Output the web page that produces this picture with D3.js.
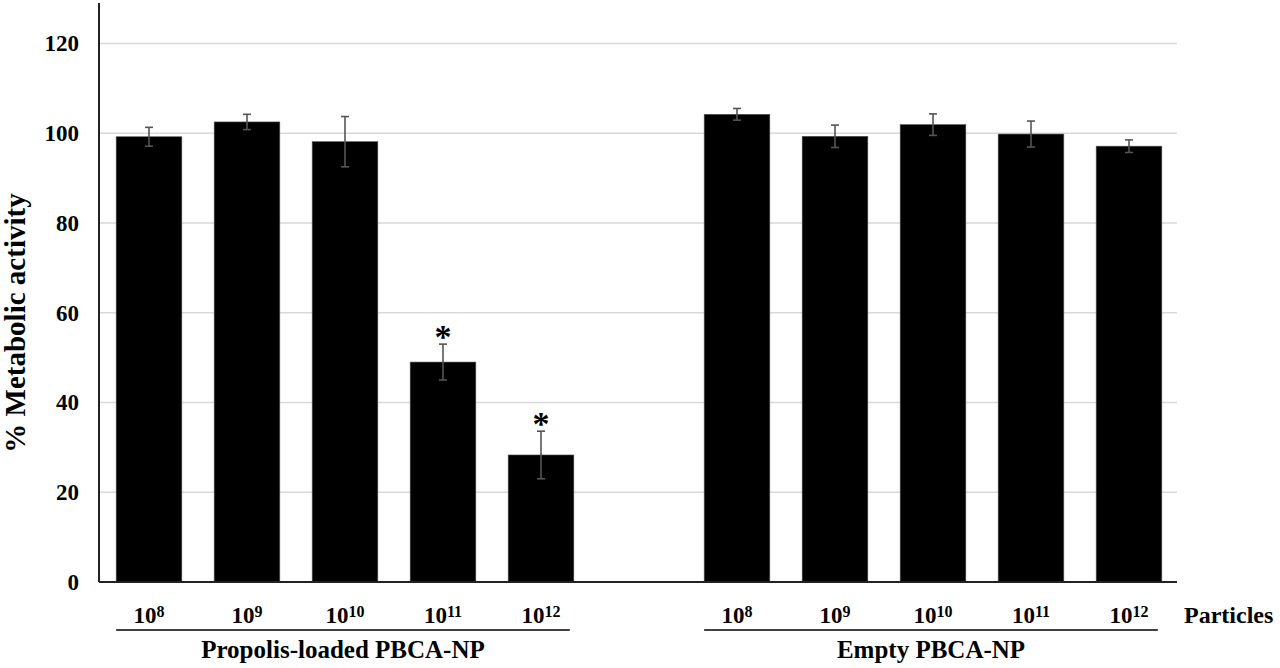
<!DOCTYPE html>
<html>
<head>
<meta charset="utf-8">
<script src="https://cdn.jsdelivr.net/npm/d3@7"></script>
<style>
  body { margin: 0; background: #fff; }
  text { font-family: "Liberation Serif", "Times New Roman", serif; font-weight: bold; fill: #000; }
</style>
</head>
<body>
<script>
// concentrations (powers of ten) and groups
var exponents = ["8", "9", "10", "11", "12"];
var groups = ["Propolis-loaded PBCA-NP", "Empty PBCA-NP"];

// mean % metabolic activity
var propolisValues = [99.2, 102.5, 98.1, 49.0, 28.3];
var propolisErrors = [2.1, 1.7, 5.6, 4.0, 5.3];
var emptyValues = [104.2, 99.3, 101.9, 99.8, 97.1];
var emptyErrors = [1.3, 2.5, 2.4, 2.9, 1.4];
var significant = [false, false, false, true, true];

var yTicks = [0, 20, 40, 60, 80, 100, 120];

var width = 1280, height = 668;
var svg = d3.select("body").append("svg")
  .attr("width", width)
  .attr("height", height);

// 11 slots: 5 bars, one empty gap, 5 bars
var slots = d3.range(11);
var x = d3.scaleBand()
  .domain(slots)
  .range([100, 1178])
  .paddingInner(0.33)
  .paddingOuter(0.165);

var y = d3.scaleLinear()
  .domain([0, 129])
  .range([582, 3]);

var bars = [];
exponents.forEach(function (e, i) {
  bars.push({ slot: i, value: propolisValues[i], err: propolisErrors[i], exp: e, star: significant[i] });
  bars.push({ slot: i + 6, value: emptyValues[i], err: emptyErrors[i], exp: e, star: false });
});

// gridlines
svg.append("g")
  .selectAll("line")
  .data(yTicks.slice(1))
  .enter()
  .append("line")
  .attr("x1", 100).attr("x2", 1177)
  .attr("y1", function (d) { return y(d); })
  .attr("y2", function (d) { return y(d); })
  .attr("stroke", "#d9d9d9")
  .attr("stroke-width", 1.5);

// y tick labels
svg.append("g")
  .selectAll("text")
  .data(yTicks)
  .enter()
  .append("text")
  .attr("x", 79)
  .attr("y", function (d) { return y(d); })
  .attr("dy", "0.34em")
  .attr("text-anchor", "end")
  .style("font-size", "23px")
  .text(function (d) { return d; });

// bars
svg.append("g")
  .selectAll("rect")
  .data(bars)
  .enter()
  .append("rect")
  .attr("x", function (d) { return x(d.slot); })
  .attr("width", x.bandwidth())
  .attr("y", function (d) { return y(d.value); })
  .attr("height", function (d) { return y(0) - y(d.value); })
  .attr("fill", "#000")
  .attr("stroke", "#555")
  .attr("stroke-width", 0.6);

// error bars
var err = svg.append("g")
  .attr("stroke", "#555")
  .attr("stroke-width", 1.6);

bars.forEach(function (d) {
  var cx = x(d.slot) + x.bandwidth() / 2;
  err.append("line")
    .attr("x1", cx).attr("x2", cx)
    .attr("y1", y(d.value + d.err)).attr("y2", y(d.value - d.err));
  [d.value + d.err, d.value - d.err].forEach(function (v) {
    err.append("line")
      .attr("x1", cx - 4).attr("x2", cx + 4)
      .attr("y1", y(v)).attr("y2", y(v));
  });
  if (d.star) {
    svg.append("text")
      .attr("x", cx)
      .attr("y", y(d.value + d.err) + 4)
      .attr("text-anchor", "middle")
      .style("font-size", "34px")
      .text("*");
  }
});

// axes lines
svg.append("line")
  .attr("x1", 99).attr("x2", 99)
  .attr("y1", y(129)).attr("y2", y(0))
  .attr("stroke", "#222").attr("stroke-width", 2);
svg.append("line")
  .attr("x1", 99).attr("x2", 1177)
  .attr("y1", y(0)).attr("y2", y(0))
  .attr("stroke", "#222").attr("stroke-width", 2);

// x tick labels with superscripts
var xl = svg.append("g")
  .selectAll("text")
  .data(bars)
  .enter()
  .append("text")
  .attr("x", function (d) { return x(d.slot) + x.bandwidth() / 2; })
  .attr("y", 623)
  .attr("text-anchor", "middle")
  .style("font-size", "23px");
xl.append("tspan").text("10");
xl.append("tspan")
  .attr("dy", "-6")
  .style("font-size", "16px")
  .text(function (d) { return d.exp; });

svg.append("text")
  .attr("x", 1184)
  .attr("y", 623)
  .style("font-size", "24px")
  .text("Particles");

// group underline + group labels
groups.forEach(function (g, gi) {
  var first = gi * 6, last = gi * 6 + 4;
  var x0 = x(first);
  var x1 = x(last) + x.bandwidth() - 4;
  svg.append("line")
    .attr("x1", x0).attr("x2", x1)
    .attr("y1", 630).attr("y2", 630)
    .attr("stroke", "#000").attr("stroke-width", 1.5);
  svg.append("text")
    .attr("x", (x0 + x1) / 2)
    .attr("y", 658)
    .attr("text-anchor", "middle")
    .style("font-size", "25px")
    .text(g);
});

// y axis title
svg.append("text")
  .attr("transform", "translate(25," + 323 + ") rotate(-90)")
  .attr("text-anchor", "middle")
  .style("font-size", "29px")
  .text("% Metabolic activity");
</script>
</body>
</html>
